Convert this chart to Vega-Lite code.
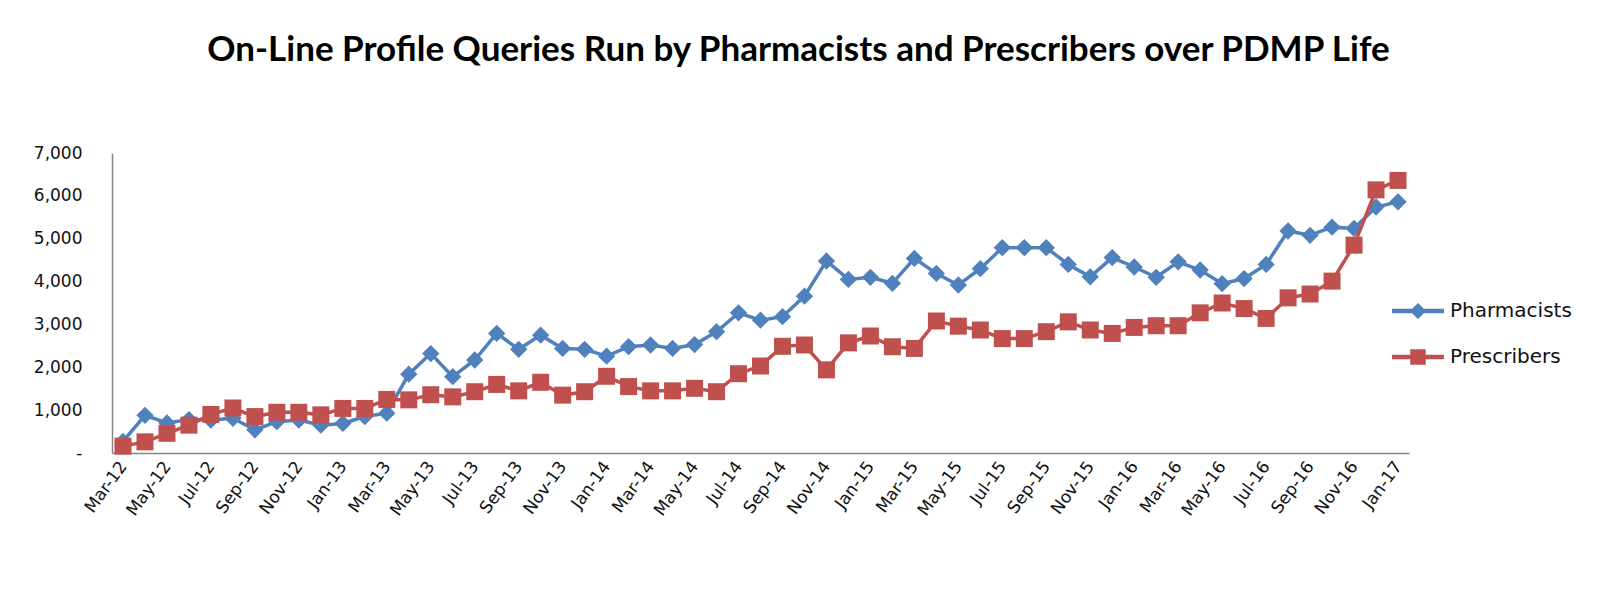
{
  "$schema": "https://vega.github.io/schema/vega-lite/v6.json",
  "width": 1297,
  "height": 300,
  "autosize": {"type": "none"},
  "padding": {"left": 112, "top": 153, "right": 189, "bottom": 138},
  "background": "white",
  "title": {
    "text": "On-Line Profile Queries Run by Pharmacists and Prescribers over PDMP Life",
    "font": "Lato",
    "fontSize": 35,
    "fontWeight": "bold",
    "color": "#000000",
    "anchor": "middle",
    "dx": 38,
    "offset": 76
  },
  "config": {
    "view": {"stroke": null},
    "axis": {"grid": false, "ticks": false, "domainColor": "#868686", "domainWidth": 1.5, "labelFont": "DejaVu Sans", "labelFontSize": 17, "labelColor": "#111111", "title": null}
  },
  "data": {
    "values": [
      {"month": "Mar-12", "series": "Pharmacists", "value": 270},
      {"month": "Apr-12", "series": "Pharmacists", "value": 880},
      {"month": "May-12", "series": "Pharmacists", "value": 700},
      {"month": "Jun-12", "series": "Pharmacists", "value": 780},
      {"month": "Jul-12", "series": "Pharmacists", "value": 770},
      {"month": "Aug-12", "series": "Pharmacists", "value": 810},
      {"month": "Sep-12", "series": "Pharmacists", "value": 540},
      {"month": "Oct-12", "series": "Pharmacists", "value": 730},
      {"month": "Nov-12", "series": "Pharmacists", "value": 770},
      {"month": "Dec-12", "series": "Pharmacists", "value": 650},
      {"month": "Jan-13", "series": "Pharmacists", "value": 690},
      {"month": "Feb-13", "series": "Pharmacists", "value": 850},
      {"month": "Mar-13", "series": "Pharmacists", "value": 930},
      {"month": "Apr-13", "series": "Pharmacists", "value": 1840},
      {"month": "May-13", "series": "Pharmacists", "value": 2320},
      {"month": "Jun-13", "series": "Pharmacists", "value": 1780},
      {"month": "Jul-13", "series": "Pharmacists", "value": 2170},
      {"month": "Aug-13", "series": "Pharmacists", "value": 2790},
      {"month": "Sep-13", "series": "Pharmacists", "value": 2420},
      {"month": "Oct-13", "series": "Pharmacists", "value": 2750},
      {"month": "Nov-13", "series": "Pharmacists", "value": 2440},
      {"month": "Dec-13", "series": "Pharmacists", "value": 2420},
      {"month": "Jan-14", "series": "Pharmacists", "value": 2260},
      {"month": "Feb-14", "series": "Pharmacists", "value": 2480},
      {"month": "Mar-14", "series": "Pharmacists", "value": 2520},
      {"month": "Apr-14", "series": "Pharmacists", "value": 2440},
      {"month": "May-14", "series": "Pharmacists", "value": 2530},
      {"month": "Jun-14", "series": "Pharmacists", "value": 2830},
      {"month": "Jul-14", "series": "Pharmacists", "value": 3270},
      {"month": "Aug-14", "series": "Pharmacists", "value": 3100},
      {"month": "Sep-14", "series": "Pharmacists", "value": 3180},
      {"month": "Oct-14", "series": "Pharmacists", "value": 3660},
      {"month": "Nov-14", "series": "Pharmacists", "value": 4480},
      {"month": "Dec-14", "series": "Pharmacists", "value": 4050},
      {"month": "Jan-15", "series": "Pharmacists", "value": 4100},
      {"month": "Feb-15", "series": "Pharmacists", "value": 3960},
      {"month": "Mar-15", "series": "Pharmacists", "value": 4540},
      {"month": "Apr-15", "series": "Pharmacists", "value": 4190},
      {"month": "May-15", "series": "Pharmacists", "value": 3920},
      {"month": "Jun-15", "series": "Pharmacists", "value": 4300},
      {"month": "Jul-15", "series": "Pharmacists", "value": 4790},
      {"month": "Aug-15", "series": "Pharmacists", "value": 4790},
      {"month": "Sep-15", "series": "Pharmacists", "value": 4790},
      {"month": "Oct-15", "series": "Pharmacists", "value": 4400},
      {"month": "Nov-15", "series": "Pharmacists", "value": 4110},
      {"month": "Dec-15", "series": "Pharmacists", "value": 4560},
      {"month": "Jan-16", "series": "Pharmacists", "value": 4340},
      {"month": "Feb-16", "series": "Pharmacists", "value": 4100},
      {"month": "Mar-16", "series": "Pharmacists", "value": 4460},
      {"month": "Apr-16", "series": "Pharmacists", "value": 4270},
      {"month": "May-16", "series": "Pharmacists", "value": 3950},
      {"month": "Jun-16", "series": "Pharmacists", "value": 4070},
      {"month": "Jul-16", "series": "Pharmacists", "value": 4400},
      {"month": "Aug-16", "series": "Pharmacists", "value": 5180},
      {"month": "Sep-16", "series": "Pharmacists", "value": 5080},
      {"month": "Oct-16", "series": "Pharmacists", "value": 5270},
      {"month": "Nov-16", "series": "Pharmacists", "value": 5240},
      {"month": "Dec-16", "series": "Pharmacists", "value": 5740},
      {"month": "Jan-17", "series": "Pharmacists", "value": 5860},
      {"month": "Mar-12", "series": "Prescribers", "value": 160},
      {"month": "Apr-12", "series": "Prescribers", "value": 260},
      {"month": "May-12", "series": "Prescribers", "value": 460},
      {"month": "Jun-12", "series": "Prescribers", "value": 650},
      {"month": "Jul-12", "series": "Prescribers", "value": 900},
      {"month": "Aug-12", "series": "Prescribers", "value": 1050},
      {"month": "Sep-12", "series": "Prescribers", "value": 850},
      {"month": "Oct-12", "series": "Prescribers", "value": 950},
      {"month": "Nov-12", "series": "Prescribers", "value": 950},
      {"month": "Dec-12", "series": "Prescribers", "value": 890},
      {"month": "Jan-13", "series": "Prescribers", "value": 1040},
      {"month": "Feb-13", "series": "Prescribers", "value": 1040},
      {"month": "Mar-13", "series": "Prescribers", "value": 1250},
      {"month": "Apr-13", "series": "Prescribers", "value": 1240},
      {"month": "May-13", "series": "Prescribers", "value": 1360},
      {"month": "Jun-13", "series": "Prescribers", "value": 1310},
      {"month": "Jul-13", "series": "Prescribers", "value": 1430},
      {"month": "Aug-13", "series": "Prescribers", "value": 1600},
      {"month": "Sep-13", "series": "Prescribers", "value": 1450},
      {"month": "Oct-13", "series": "Prescribers", "value": 1650},
      {"month": "Nov-13", "series": "Prescribers", "value": 1350},
      {"month": "Dec-13", "series": "Prescribers", "value": 1430},
      {"month": "Jan-14", "series": "Prescribers", "value": 1790},
      {"month": "Feb-14", "series": "Prescribers", "value": 1550},
      {"month": "Mar-14", "series": "Prescribers", "value": 1450},
      {"month": "Apr-14", "series": "Prescribers", "value": 1450},
      {"month": "May-14", "series": "Prescribers", "value": 1510},
      {"month": "Jun-14", "series": "Prescribers", "value": 1430},
      {"month": "Jul-14", "series": "Prescribers", "value": 1850},
      {"month": "Aug-14", "series": "Prescribers", "value": 2030},
      {"month": "Sep-14", "series": "Prescribers", "value": 2490},
      {"month": "Oct-14", "series": "Prescribers", "value": 2520},
      {"month": "Nov-14", "series": "Prescribers", "value": 1940},
      {"month": "Dec-14", "series": "Prescribers", "value": 2570},
      {"month": "Jan-15", "series": "Prescribers", "value": 2730},
      {"month": "Feb-15", "series": "Prescribers", "value": 2480},
      {"month": "Mar-15", "series": "Prescribers", "value": 2440},
      {"month": "Apr-15", "series": "Prescribers", "value": 3080},
      {"month": "May-15", "series": "Prescribers", "value": 2960},
      {"month": "Jun-15", "series": "Prescribers", "value": 2870},
      {"month": "Jul-15", "series": "Prescribers", "value": 2670},
      {"month": "Aug-15", "series": "Prescribers", "value": 2670},
      {"month": "Sep-15", "series": "Prescribers", "value": 2830},
      {"month": "Oct-15", "series": "Prescribers", "value": 3060},
      {"month": "Nov-15", "series": "Prescribers", "value": 2870},
      {"month": "Dec-15", "series": "Prescribers", "value": 2790},
      {"month": "Jan-16", "series": "Prescribers", "value": 2930},
      {"month": "Feb-16", "series": "Prescribers", "value": 2970},
      {"month": "Mar-16", "series": "Prescribers", "value": 2970},
      {"month": "Apr-16", "series": "Prescribers", "value": 3270},
      {"month": "May-16", "series": "Prescribers", "value": 3500},
      {"month": "Jun-16", "series": "Prescribers", "value": 3370},
      {"month": "Jul-16", "series": "Prescribers", "value": 3140},
      {"month": "Aug-16", "series": "Prescribers", "value": 3620},
      {"month": "Sep-16", "series": "Prescribers", "value": 3710},
      {"month": "Oct-16", "series": "Prescribers", "value": 4010},
      {"month": "Nov-16", "series": "Prescribers", "value": 4850},
      {"month": "Dec-16", "series": "Prescribers", "value": 6140},
      {"month": "Jan-17", "series": "Prescribers", "value": 6360}
    ]
  },
  "encoding": {
    "x": {
      "field": "month",
      "type": "ordinal",
      "sort": null,
      "scale": {"type": "point", "padding": 0.5},
      "axis": {
        "values": ["Mar-12","May-12","Jul-12","Sep-12","Nov-12","Jan-13","Mar-13","May-13","Jul-13","Sep-13","Nov-13","Jan-14","Mar-14","May-14","Jul-14","Sep-14","Nov-14","Jan-15","Mar-15","May-15","Jul-15","Sep-15","Nov-15","Jan-16","Mar-16","May-16","Jul-16","Sep-16","Nov-16","Jan-17"],
        "labelAngle": -54,
        "labelAlign": "right",
        "labelBaseline": "middle",
        "labelPadding": 10,
        "labelOverlap": false
      }
    },
    "y": {
      "field": "value",
      "type": "quantitative",
      "scale": {"domain": [0, 7000], "nice": false},
      "axis": {
        "values": [0, 1000, 2000, 3000, 4000, 5000, 6000, 7000],
        "labelExpr": "datum.value == 0 ? '-' : format(datum.value, ',')",
        "labelPadding": 30
      }
    },
    "color": {
      "field": "series",
      "type": "nominal",
      "scale": {"domain": ["Pharmacists", "Prescribers"], "range": ["#4F81BD", "#C0504D"]}
    }
  },
  "layer": [
    {
      "transform": [{"filter": "datum.series == 'Pharmacists'"}],
      "mark": {"type": "line", "strokeWidth": 3.5},
      "encoding": {}
    },
    {
      "transform": [{"filter": "datum.series == 'Pharmacists'"}],
      "mark": {"type": "point", "filled": true, "opacity": 1, "size": 300, "shape": "diamond"},
      "encoding": {}
    },
    {
      "transform": [{"filter": "datum.series == 'Prescribers'"}],
      "mark": {"type": "line", "strokeWidth": 3.5},
      "encoding": {}
    },
    {
      "transform": [{"filter": "datum.series == 'Prescribers'"}],
      "mark": {"type": "point", "filled": true, "opacity": 1, "size": 289, "shape": "square"},
      "encoding": {
        "color": {
          "field": "series",
          "type": "nominal",
          "legend": {
            "orient": "none",
            "legendX": 1296,
            "legendY": 148,
            "title": null,
            "symbolSize": 196,
            "symbolType": "square",
            "symbolOpacity": 1,
            "labelFont": "DejaVu Sans",
            "labelFontSize": 20,
            "labelColor": "#111111",
            "labelOffset": 22,
            "rowPadding": 26,
            "encode": {
              "symbols": {
                "update": {
                  "shape": {"signal": "datum.value == 'Pharmacists' ? 'M-3.6,-0.22L-0.8,-0.22L0,-1L0.8,-0.22L3.6,-0.22L3.6,0.22L0.8,0.22L0,1L-0.8,0.22L-3.6,0.22Z' : 'M-3.6,-0.22L-1,-0.22L-1,-1L1,-1L1,-0.22L3.6,-0.22L3.6,0.22L1,0.22L1,1L-1,1L-1,0.22L-3.6,0.22Z'"},
                  "fill": {"signal": "datum.value == 'Pharmacists' ? '#4F81BD' : '#C0504D'"},
                  "stroke": {"value": null},
                  "opacity": {"value": 1}
                }
              }
            }
          }
        }
      }
    }
  ]
}
